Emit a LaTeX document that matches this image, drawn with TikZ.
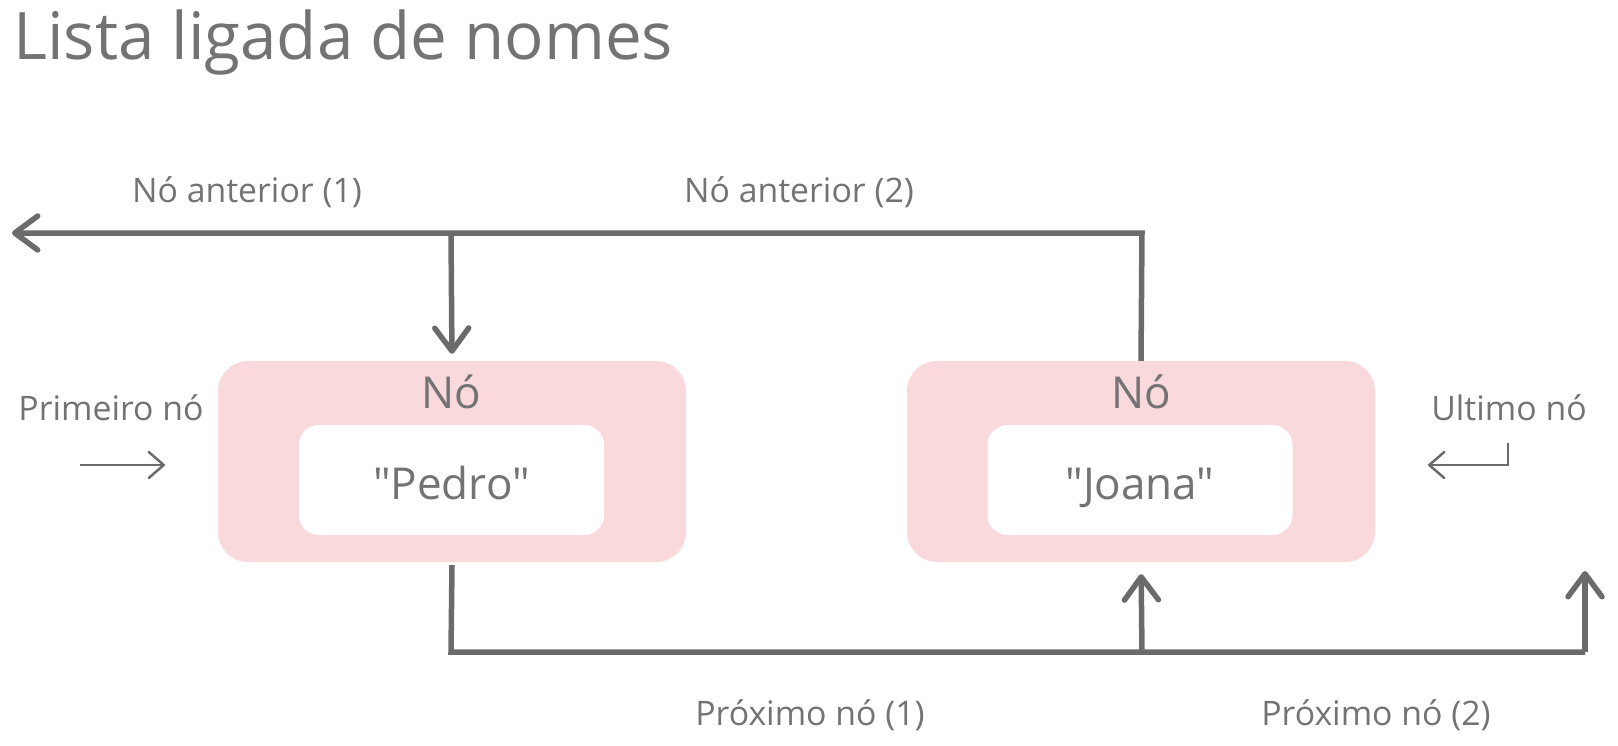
\documentclass[tikz,border=0pt]{standalone}
\usepackage{fontspec}
\setmainfont{Open Sans}[Ligatures=TeXOff]
\usetikzlibrary{arrows.meta}
\definecolor{linegray}{HTML}{6B6B6B}
\definecolor{textgray}{HTML}{737373}
\definecolor{pinkfill}{HTML}{F9D9DC}
\tikzset{
  pinkbox/.style={fill=pinkfill, draw=none, rounded corners=30pt, minimum width=468pt, minimum height=201pt, inner sep=0pt},
  whitebox/.style={fill=white, draw=none, rounded corners=20pt, minimum width=305pt, minimum height=110pt, inner sep=0pt},
  conn/.style={draw=linegray, line width=5.5pt},
  bigtip/.style={-{Straight Barb[length=23pt,width=34pt,round]}},
  thin/.style={draw=linegray, line width=2.5pt, -{Straight Barb[length=15pt,width=26pt,round]}},
  lbl/.style={text=textgray, font=\fontsize{33.8}{40}\selectfont, anchor=base, inner sep=0pt},
  boxlbl/.style={text=textgray, font=\fontsize{44}{50}\selectfont, anchor=base, inner sep=0pt},
  ttl/.style={text=textgray, font=\fontsize{65.5}{76}\selectfont, anchor=base west, inner sep=0pt}
}
\begin{document}
\begin{tikzpicture}[x=1pt,y=-1pt]
\useasboundingbox (0,0) rectangle (1618,745);
% title
\node[ttl] (title) at (13,59) {Lista ligada de nomes};
% boxes
\node[pinkbox] (n1) at (452,461.5) {};
\node[whitebox] (v1) at (451.5,480) {};
\node[boxlbl] (l1) at (451,408) {Nó};
\node[boxlbl] (t1) at (451.5,499) {"Pedro"};
\node[pinkbox] (n2) at (1141,461.5) {};
\node[whitebox] (v2) at (1140,480) {};
\node[boxlbl] (l2) at (1141,408) {Nó};
\node[boxlbl] (t2) at (1140,499) {"Joana"};
% labels
\node[lbl] (a1) at (247,202) {Nó anterior (1)};
\node[lbl] (a2) at (799,202) {Nó anterior (2)};
\node[lbl] (p1) at (810,725) {Próximo nó (1)};
\node[lbl] (p2) at (1376,725) {Próximo nó (2)};
\node[lbl] (pn) at (111,420) {Primeiro nó};
\node[lbl] (un) at (1509,420) {Ultimo nó};
% coordinates
\coordinate (tl) at (12,233);
\coordinate (td) at (451,233);
\coordinate (tj) at (1142,233);
\coordinate (b1) at (451,652);
\coordinate (bj) at (1142,652);
\coordinate (b2) at (1585,652);
\coordinate (br) at (1585,571);
\coordinate (pa1) at (80,465);
\coordinate (pa2) at (165,465);
\coordinate (ua1) at (1508,443);
\coordinate (ua2) at (1508,465);
\coordinate (ua3) at (1428,465);
% connectors
\draw[conn, bigtip] (n2.north) -- (tj) -- (tl);
\draw[conn, bigtip, shorten >=7pt] (td) -- (n1.north);
\draw[conn] (n1.south) ++(0,3) -- (b1) -- (b2);
\draw[conn, bigtip, shorten >=12pt] (bj) -- (n2.south);
\draw[conn, bigtip] (b2) -- (br);
\draw[thin] (pa1) -- (pa2);
\draw[thin] (ua1) -- (ua2) -- (ua3);
\end{tikzpicture}
\end{document}
